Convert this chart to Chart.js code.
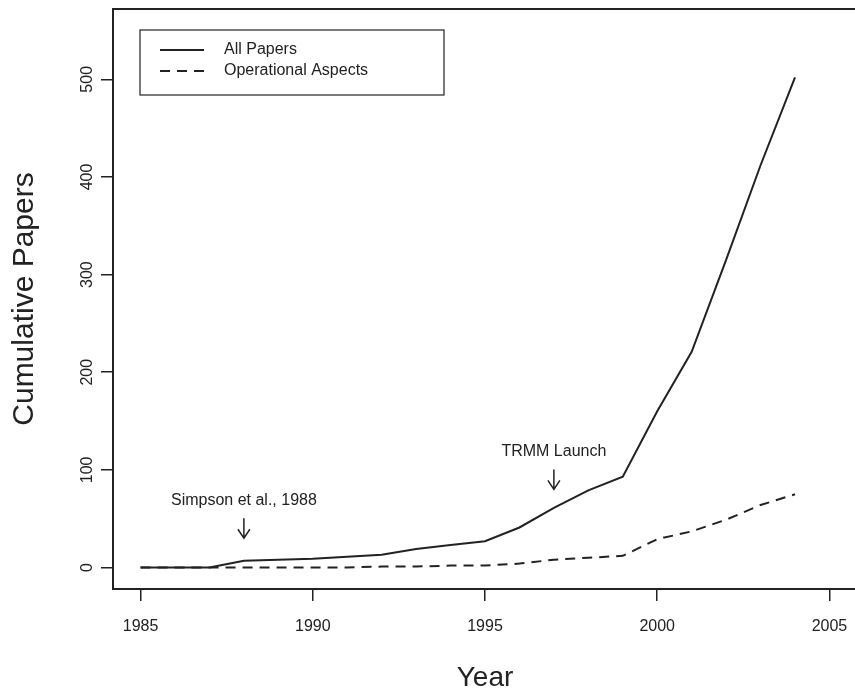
<!DOCTYPE html>
<html>
<head>
<meta charset="utf-8">
<script src="https://cdn.jsdelivr.net/npm/chart.js@4.4.0/dist/chart.umd.min.js"></script>
</head>
<body style="margin:0;overflow:hidden;background:#fff">
<div style="width:870px;height:695px"><canvas id="myChart"></canvas></div>
<script>
// cumulative paper counts per year
const years = [1985, 1986, 1987, 1988, 1989, 1990, 1991, 1992, 1993, 1994,
               1995, 1996, 1997, 1998, 1999, 2000, 2001, 2002, 2003, 2004];
const allPapers = [0, 0, 0, 7, 8, 9, 11, 13, 19, 23,
                   27, 41, 61, 79, 93, 160, 221, 315, 412, 502];
const operational = [0, 0, 0, 0, 0, 0, 0, 1, 1, 2,
                     2, 4, 8, 10, 12, 29, 37, 49, 64, 75];
const xTicks = [1985, 1990, 1995, 2000, 2005];
const yTicks = [0, 100, 200, 300, 400, 500];
const notes = [
  { text: "Simpson et al., 1988", year: 1988, tip: 30 },
  { text: "TRMM Launch", year: 1997, tip: 80 }
];

const ink = "#222";
const fontFam = "'Liberation Sans', Arial, sans-serif";

const pts = (vals) => years.map((y, i) => ({ x: y, y: vals[i] }));

const rPlot = {
  id: "rPlot",
  afterDraw(chart) {
    const ctx = chart.ctx;
    const a = chart.chartArea;
    const xs = chart.scales.x, ys = chart.scales.y;
    ctx.save();
    // box
    ctx.strokeStyle = ink;
    ctx.lineWidth = 2;
    ctx.strokeRect(a.left, a.top, a.right - a.left, a.bottom - a.top);

    ctx.fillStyle = ink;
    // y tick labels, rotated like R
    ctx.font = "16px " + fontFam;
    ctx.textAlign = "center";
    ctx.textBaseline = "middle";
    ys.ticks.forEach(t => {
      ctx.save();
      ctx.translate(a.left - 25, ys.getPixelForValue(t.value));
      ctx.rotate(-Math.PI / 2);
      ctx.fillText(String(t.value), 0, 0);
      ctx.restore();
    });

    // axis titles
    ctx.font = "28px " + fontFam;
    ctx.fillText("Year", (a.left + a.right) / 2, 678);
    ctx.font = "30px " + fontFam;
    ctx.save();
    ctx.translate(25, (a.top + a.bottom) / 2);
    ctx.rotate(-Math.PI / 2);
    ctx.fillText("Cumulative Papers", 0, 0);
    ctx.restore();

    // annotations with arrows
    ctx.font = "16px " + fontFam;
    ctx.lineWidth = 1.5;
    notes.forEach(n => {
      const x = xs.getPixelForValue(n.year);
      const y = ys.getPixelForValue(n.tip);
      ctx.beginPath();
      ctx.moveTo(x, y - 20);
      ctx.lineTo(x, y);
      ctx.moveTo(x - 6, y - 9);
      ctx.lineTo(x, y);
      ctx.lineTo(x + 6, y - 9);
      ctx.stroke();
      ctx.fillText(n.text, x, y - 38);
    });

    // legend box
    const lx = a.left + 27, ly = 30;
    ctx.lineWidth = 1.2;
    ctx.strokeRect(lx, ly, 304, 65);
    ctx.font = "16px " + fontFam;
    ctx.textAlign = "left";
    chart.data.datasets.forEach((ds, i) => {
      const yy = ly + 20 + i * 21;
      ctx.beginPath();
      ctx.lineWidth = 2;
      ctx.setLineDash(ds.borderDash || []);
      ctx.moveTo(lx + 20, yy);
      ctx.lineTo(lx + 64, yy);
      ctx.stroke();
      ctx.setLineDash([]);
      ctx.fillText(ds.label, lx + 84, yy);
    });
    ctx.restore();
  }
};

new Chart(document.getElementById("myChart"), {
  type: "line",
  data: {
    datasets: [
      {
        label: "All Papers",
        data: pts(allPapers),
        borderColor: ink,
        borderWidth: 2,
        pointRadius: 0,
        tension: 0,
        order: 1
      },
      {
        label: "Operational Aspects",
        data: pts(operational),
        borderColor: ink,
        borderWidth: 2,
        borderDash: [10, 7],
        pointRadius: 0,
        tension: 0,
        order: 2
      }
    ]
  },
  options: {
    responsive: true,
    maintainAspectRatio: false,
    animation: false,
    layout: { padding: { top: 9, right: 13, left: 0, bottom: 0 } },
    plugins: { legend: { display: false }, tooltip: { enabled: false } },
    scales: {
      x: {
        type: "linear",
        min: 1984.2,
        max: 2005.8,
        afterBuildTicks: s => { s.ticks = xTicks.map(v => ({ value: v })); },
        afterFit: s => { s.height = 106; },
        border: { display: false },
        grid: { drawOnChartArea: false, drawTicks: true, tickLength: 12, color: ink, lineWidth: 1.5 },
        ticks: {
          padding: 16,
          color: ink,
          font: { size: 16, family: fontFam },
          maxRotation: 0,
          callback: v => String(v)
        }
      },
      y: {
        type: "linear",
        min: -22,
        max: 572,
        afterBuildTicks: s => { s.ticks = yTicks.map(v => ({ value: v })); },
        afterFit: s => { s.width = 113; },
        border: { display: false },
        grid: { drawOnChartArea: false, drawTicks: true, tickLength: 12, color: ink, lineWidth: 1.5 },
        ticks: { display: false }
      }
    }
  },
  plugins: [rPlot]
});
</script>
</body>
</html>
